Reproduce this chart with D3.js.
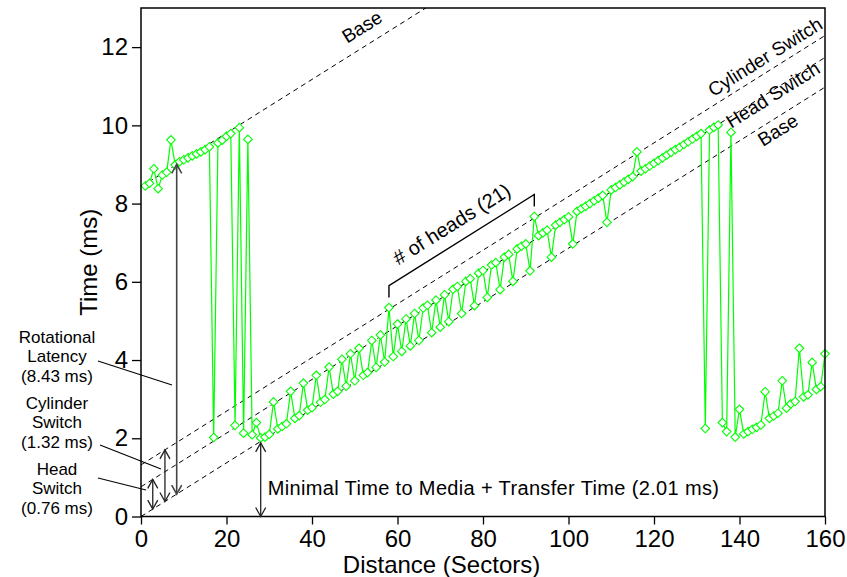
<!DOCTYPE html>
<html><head><meta charset="utf-8">
<script src="https://cdn.jsdelivr.net/npm/d3@7"></script>
<style>
html,body{margin:0;padding:0;background:#fff;}
svg{display:block;font-family:"Liberation Sans",Arial,Helvetica,sans-serif;}
</style></head><body>
<svg id="chart" width="847" height="577"></svg>
<script>
// Measured seek time versus target distance (sectors)
const distance = [
  1,2,3,4,5,6,7,8,9,10,11,12,13,14,15,16,17,18,19,20,
  21,22,23,24,25,26,27,28,29,30,31,32,33,34,35,36,37,38,39,40,
  41,42,43,44,45,46,47,48,49,50,51,52,53,54,55,56,57,58,59,60,
  61,62,63,64,65,66,67,68,69,70,71,72,73,74,75,76,77,78,79,80,
  81,82,83,84,85,86,87,88,89,90,91,92,93,94,95,96,97,98,99,100,
  101,102,103,104,105,106,107,108,109,110,111,112,113,114,115,116,117,118,119,120,
  121,122,123,124,125,126,127,128,129,130,131,132,133,134,135,136,137,138,139,140,
  141,142,143,144,145,146,147,148,149,150,151,152,153,154,155,156,157,158,159,160
];
const timeMs = [
  8.45,8.52,8.89,8.38,8.73,8.80,9.63,8.99,9.07,9.12,9.17,9.22,9.27,9.32,9.38,9.45,2.02,9.55,9.62,9.72,
  9.79,2.33,9.94,2.13,9.64,2.09,2.40,2.01,2.03,2.10,2.93,2.24,2.30,2.37,3.20,2.51,2.58,3.41,2.72,2.78,
  3.61,2.92,2.99,3.82,3.13,3.20,4.02,3.33,4.16,3.47,4.30,3.61,3.68,4.50,3.81,4.64,3.95,5.34,4.09,4.92,
  4.22,5.05,4.36,5.19,4.50,5.33,5.40,4.70,5.53,4.84,5.67,4.98,5.81,5.88,5.19,6.01,6.08,5.39,6.22,6.29,
  5.60,6.43,6.49,5.80,6.63,6.70,6.01,6.84,6.91,6.97,6.28,7.67,7.18,7.25,7.32,6.63,7.45,7.52,7.59,7.66,
  6.97,7.80,7.87,7.93,8.00,8.07,8.14,8.21,7.52,8.35,8.41,8.48,8.55,8.62,8.69,9.32,8.83,8.89,8.96,9.03,
  9.10,9.17,9.24,9.31,9.38,9.44,9.51,9.58,9.65,9.72,9.79,2.25,9.88,9.95,10.01,2.40,2.17,9.82,2.03,2.74,
  2.11,2.17,2.23,2.28,2.34,3.19,2.51,2.57,2.64,3.47,2.77,2.88,2.94,4.30,3.06,3.11,3.94,3.25,3.32,4.16
];
const xTicks = [0,20,40,60,80,100,120,140,160];
const yTicks = [0,2,4,6,8,10,12];

// Reference lines: time = offset + slope * distance
const refSlope = 0.0686;
const refNames = ["Base","Head Switch","Cylinder Switch","Base"];
const refOffsets = [0,0.76,1.32,8.43];

// Component annotations (ms)
const compNames = [["Head","Switch","(0.76 ms)"],["Cylinder","Switch","(1.32 ms)"],["Rotational","Latency","(8.43 ms)"]];
const compValues = [0.76,1.32,8.43];
const compAt = [2.75,5.6,8.35];
const minimalLabel = "Minimal Time to Media + Transfer Time (2.01 ms)";
const minimalValue = 2.01;
const minimalAt = 28;
const headsLabel = "# of heads (21)";
const headsFrom = 58, headsTo = 92;

const W = 847, H = 577;
const margin = {top: 8, right: 22, bottom: 60.5, left: 141};
const iw = W - margin.left - margin.right;
const ih = H - margin.top - margin.bottom;

const svg = d3.select("#chart");
const g = svg.append("g").attr("transform", `translate(${margin.left},${margin.top})`);

const x = d3.scaleLinear().domain([0,160]).range([0,iw]);
const y = d3.scaleLinear().domain([0,13]).range([ih,0]);

svg.append("defs").append("clipPath").attr("id","plotclip")
  .append("rect").attr("width",iw).attr("height",ih);

// axes
const ax = g.append("g").attr("transform",`translate(0,${ih})`)
  .call(d3.axisBottom(x).tickValues(xTicks).tickSize(8).tickPadding(5).tickFormat(d3.format("d")));
const ay = g.append("g")
  .call(d3.axisLeft(y).tickValues(yTicks).tickSize(9).tickPadding(4).tickFormat(d3.format("d")));
[ax,ay].forEach(a=>{
  a.select(".domain").remove();
  a.selectAll(".tick line").attr("stroke","#000").attr("stroke-width",1.3);
  a.selectAll(".tick text").attr("fill","#000").style("font-size","24px").style("font-family","'Liberation Sans',Arial,sans-serif");
});

g.append("text").attr("x",x(70.3)).attr("y",ih+56).attr("text-anchor","middle")
  .style("font-size","24px").text("Distance (Sectors)");
g.append("text").attr("transform",`translate(${-44},${ih/2}) rotate(-90)`).attr("text-anchor","middle")
  .style("font-size","24px").text("Time (ms)");

// reference lines
const refG = g.append("g").attr("clip-path","url(#plotclip)");
refOffsets.forEach(off=>{
  refG.append("line")
    .attr("x1",x(0)).attr("y1",y(off))
    .attr("x2",x(160)).attr("y2",y(off+refSlope*160))
    .attr("stroke","#000").attr("stroke-width",1).attr("stroke-dasharray","5,4");
});

// data
const pts = distance.map((d,i)=>[d,timeMs[i]]);
g.append("path").datum(pts)
  .attr("fill","none").attr("stroke","#00ff00").attr("stroke-width",1.2)
  .attr("d", d3.line().x(d=>x(d[0])).y(d=>y(d[1])));
g.append("g").selectAll("path").data(pts).join("path")
  .attr("transform",d=>`translate(${x(d[0])},${y(d[1])})`)
  .attr("d","M0,-4.3L4.3,0L0,4.3L-4.3,0Z")
  .attr("fill","#fff").attr("stroke","#00ff00").attr("stroke-width",1.1);

// frame
g.append("rect").attr("width",iw).attr("height",ih)
  .attr("fill","none").attr("stroke","#000").attr("stroke-width",1.5);

// double-headed arrow
function arrow(px, yTop, yBot, color, sw){
  const a = g.append("g").attr("stroke",color).attr("stroke-width",sw).attr("fill","none");
  a.append("line").attr("x1",px).attr("x2",px).attr("y1",yTop).attr("y2",yBot);
  a.append("path").attr("d",`M${px-5},${yTop+9}L${px},${yTop}L${px+5},${yTop+9}`);
  a.append("path").attr("d",`M${px-5},${yBot-9}L${px},${yBot}L${px+5},${yBot-9}`);
}
compValues.forEach((v,i)=>{
  const s = compAt[i];
  const b = refSlope*s;
  arrow(x(s), y(b+v), y(b), i===2 ? "#444" : "#222", i===2 ? 1.6 : 1.3);
});
arrow(x(minimalAt), y(minimalValue)+5, y(0), "#222", 1.3);

// component labels (one text block each, wrapped into lines) with leaders
const labMid = [494.2, 428.3, 362.3];
const lineGap = 19.5;
const leaders = [[[98,478],[146,490]],[[100,445],[161,469]],[[98,361],[172,385]]];
compNames.forEach((lines,i)=>{
  const t = svg.append("text").attr("text-anchor","middle").attr("fill","#000")
    .style("font-size","17px");
  lines.forEach((s,j)=>{
    t.append("tspan").attr("x",57).attr("y",labMid[i]+(j-1)*lineGap).text(s);
  });
  svg.append("line").attr("x1",leaders[i][0][0]).attr("y1",leaders[i][0][1])
    .attr("x2",leaders[i][1][0]).attr("y2",leaders[i][1][1])
    .attr("stroke","#000").attr("stroke-width",1.1);
});
g.append("text").attr("x",x(minimalAt)+7).attr("y",y(0)-21.5)
  .style("font-size","20px").style("letter-spacing","0.35px").text(minimalLabel);

// reference-line labels
const ang = -Math.atan(refSlope*(ih/13)/(iw/160))*180/Math.PI;
const refLabelPos = [[149,9.88],[147.8,10.78],[146,11.75],[51.7,12.52]];
refNames.forEach((n,i)=>{
  const p = refLabelPos[i];
  g.append("text").attr("transform",`translate(${x(p[0])},${y(p[1])}) rotate(${ang})`)
    .attr("text-anchor","middle").attr("dominant-baseline","central")
    .style("font-size","19px").text(n);
});

// heads bracket
const t1 = timeMs[distance.indexOf(headsFrom)], t2 = timeMs[distance.indexOf(headsTo)];
const bx1 = x(headsFrom), by1 = y(t1)-10, bx2 = x(headsTo), by2 = y(t2)-10;
g.append("path").attr("d",`M${bx1},${by1}L${bx1},${by1-12}L${bx2},${by2-12}L${bx2},${by2}`)
  .attr("fill","none").attr("stroke","#000").attr("stroke-width",1.4);
const mx = (bx1+bx2)/2, my = (by1+by2)/2-12;
const rad = ang*Math.PI/180;
g.append("text").attr("transform",`translate(${mx+Math.sin(rad)*12},${my-Math.cos(rad)*12}) rotate(${ang})`)
  .attr("text-anchor","middle").style("font-size","20px").text(headsLabel);
</script>
</body></html>
